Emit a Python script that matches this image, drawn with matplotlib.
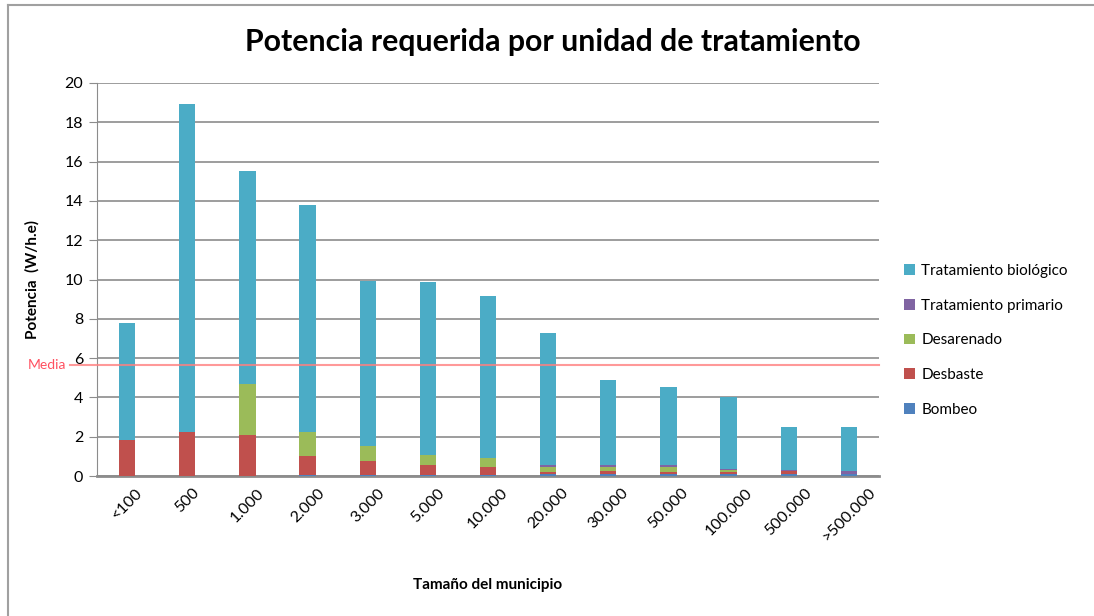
import numpy as np
import matplotlib
matplotlib.use('Agg')
import matplotlib.pyplot as plt
from matplotlib.lines import Line2D

plt.rcParams['font.family'] = ['Lato', 'DejaVu Sans']

categorias = ['<100', '500', '1.000', '2.000', '3.000', '5.000', '10.000',
              '20.000', '30.000', '50.000', '100.000', '500.000', '>500.000']
total = [7.8, 18.95, 15.5, 13.8, 9.92, 9.85, 9.16, 7.28, 4.88, 4.53, 4.02, 2.47, 2.47]
bombeo = [0, 0, 0, 0.05, 0.05, 0.05, 0.05, 0.12, 0.12, 0.12, 0.12, 0.1, 0.1]
trat_primario = [0, 0, 0, 0, 0, 0, 0, 0.08, 0.08, 0.08, 0.06, 0.05, 0.15]
desbaste = [1.83, 2.24, 2.09, 0.98, 0.71, 0.53, 0.42, 0.1, 0.15, 0.07, 0.1, 0.15, 0]
desarenado = [0, 0, 2.59, 1.21, 0.77, 0.49, 0.44, 0.26, 0.21, 0.29, 0.1, 0, 0]
media = 5.65

bombeo = np.array(bombeo)
trat_primario = np.array(trat_primario)
desbaste = np.array(desbaste)
desarenado = np.array(desarenado)
biologico = np.array(total) - bombeo - trat_primario - desbaste - desarenado

fig = plt.figure(figsize=(10.94, 6.16), dpi=100)
ax = fig.add_axes([97 / 1094, 1 - 476 / 616, 782 / 1094, 393 / 616])

x = np.arange(len(categorias))
w = 0.27
series = [
    ('Bombeo', bombeo, '#4F81BD'),
    ('Desbaste', desbaste, '#C0504D'),
    ('Desarenado', desarenado, '#9BBB59'),
    ('Tratamiento primario', trat_primario, '#8064A2'),
    ('Tratamiento biológico', biologico, '#4BACC6'),
]
bottom = np.zeros(len(categorias))
for name, vals, col in series:
    ax.bar(x, vals, w, bottom=bottom, color=col, label=name, zorder=3)
    bottom = bottom + vals

ax.set_xlim(-0.5, len(categorias) - 0.5)
ax.set_ylim(0, 20)
ax.set_yticks(range(0, 21, 2))
ax.yaxis.grid(True, color='#8c8c8c', linewidth=1.2, zorder=0)
for s in ['top', 'right']:
    ax.spines[s].set_visible(False)
ax.spines['left'].set_color('#8c8c8c')
ax.spines['bottom'].set_color('#8c8c8c')
ax.spines['bottom'].set_linewidth(2)
ax.tick_params(axis='y', length=6, color='#8c8c8c', labelsize=11.5, pad=4)
ax.tick_params(axis='x', length=0, labelsize=11.5, pad=7)
ax.set_xticks(x)
ax.set_xticklabels(categorias, rotation=45, ha='center', va='top')

# linea de la media
ax.axhline(media, xmin=-0.035, xmax=1, color='#ff8080', linewidth=1.5, alpha=0.8,
           clip_on=False, zorder=4)
ax.text(-0.088, media, 'Media', transform=ax.get_yaxis_transform(), color='#ff5060',
        fontsize=10, va='center', ha='left')

ax.set_ylabel('Potencia  (W/h.e)', fontsize=11, fontweight='bold', labelpad=18)
ax.set_xlabel('Tamaño del municipio', fontsize=11, fontweight='bold', labelpad=24)
fig.text(0.505, 1 - 42 / 616, 'Potencia requerida por unidad de tratamiento',
         ha='center', va='center', fontsize=21.8, fontweight='bold')

handles, labels = ax.get_legend_handles_labels()
ax.legend(handles[::-1], labels[::-1], loc='center left', bbox_to_anchor=(1.015, 0.345),
          frameon=False, fontsize=11, handlelength=0.7, handleheight=0.7,
          handletextpad=0.4, labelspacing=1.35)

# borde del grafico
fig.add_artist(Line2D([8 / 1094, 1], [1 - 5 / 616, 1 - 5 / 616], color='#a0a0a0', linewidth=1.5))
fig.add_artist(Line2D([8 / 1094, 8 / 1094], [0, 1 - 5 / 616], color='#a0a0a0', linewidth=1.5))

fig.savefig('out.png', dpi=100)
